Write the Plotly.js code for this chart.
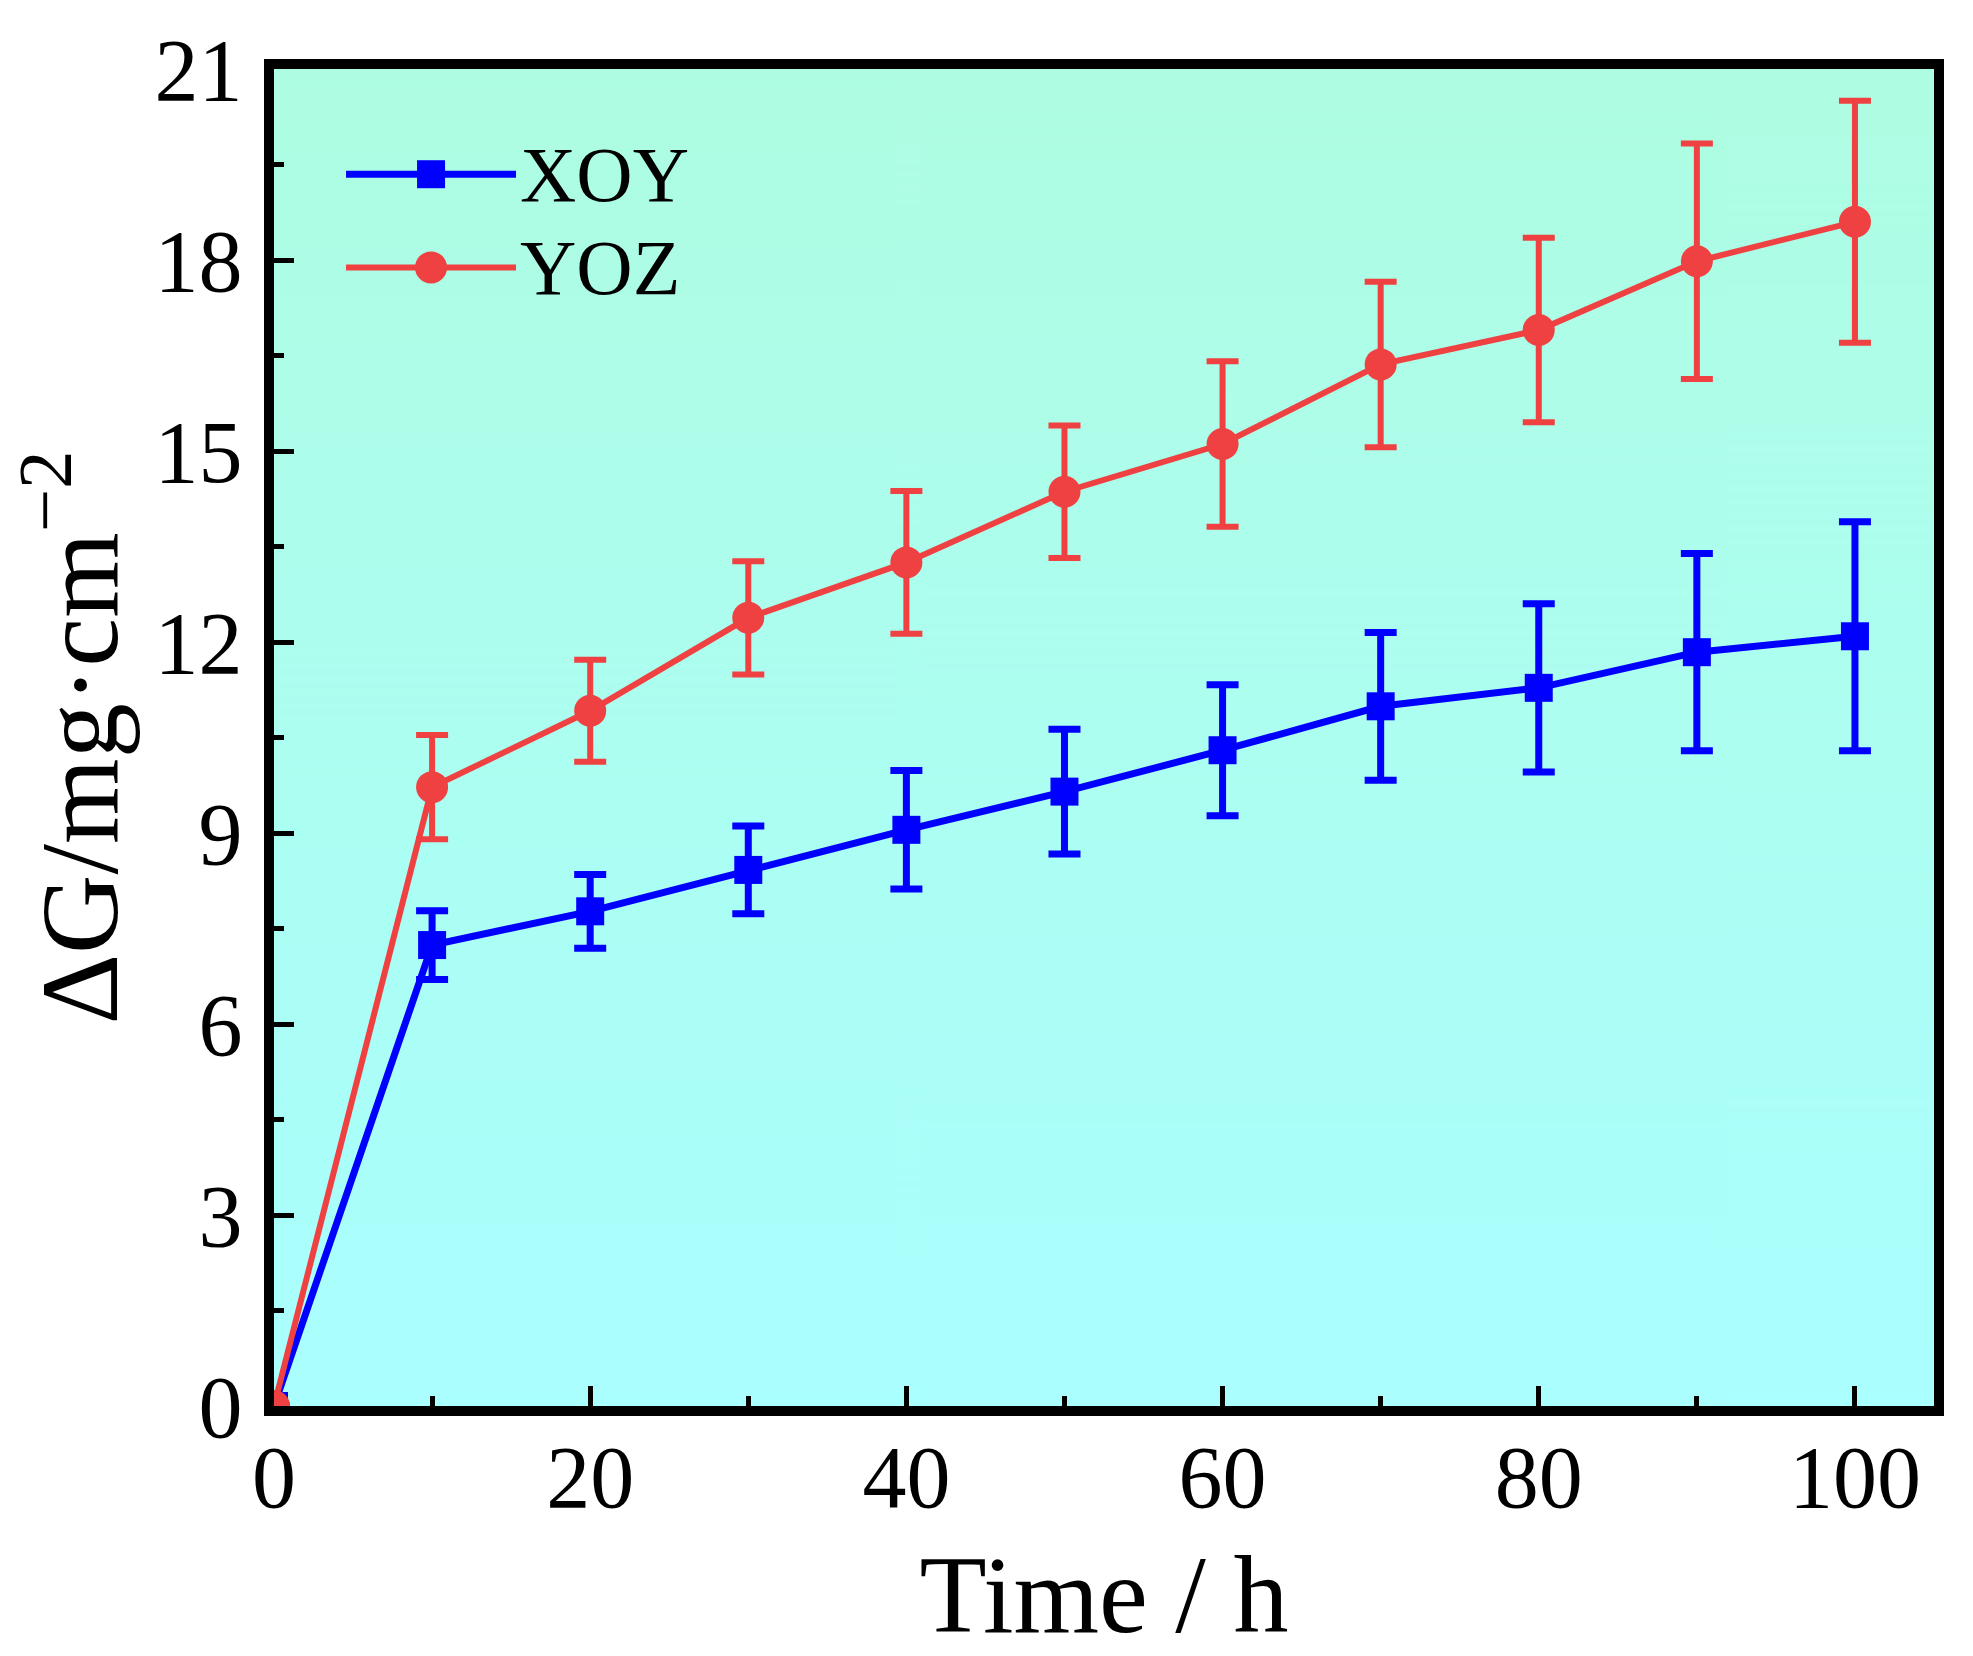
<!DOCTYPE html>
<html>
<head>
<meta charset="utf-8">
<script src="https://cdn.plot.ly/plotly-3.0.1.min.js"></script>
<style>html,body{margin:0;padding:0;background:#fff;}</style>
</head>
<body>
<div id="chart" style="width:1973px;height:1656px;"></div>
<script>
// ---- data ----
const time = [0, 10, 20, 30, 40, 50, 60, 70, 80, 90, 100];
const xoyValues = [0, 7.24, 7.77, 8.42, 9.05, 9.65, 10.30, 10.99, 11.28, 11.84, 12.09];
const xoyErrors = [0, 0.54, 0.58, 0.69, 0.93, 0.98, 1.03, 1.16, 1.32, 1.55, 1.80];
const yozValues = [0, 9.72, 10.92, 12.38, 13.25, 14.36, 15.11, 16.36, 16.90, 17.98, 18.60];
const yozErrors = [0, 0.82, 0.80, 0.89, 1.12, 1.04, 1.30, 1.30, 1.45, 1.85, 1.90];
const xTicks = [0, 20, 40, 60, 80, 100];
const yTicks = [0, 3, 6, 9, 12, 15, 18, 21];
const seriesNames = ['XOY', 'YOZ'];

const BLUE = '#0000ff';
const RED = '#ef4141';
const FONT = 'Liberation Serif, Times New Roman, serif';

// gradient background image
function gradientURL() {
  const c = document.createElement('canvas');
  c.width = 4; c.height = 400;
  const g = c.getContext('2d');
  const gr = g.createLinearGradient(0, 0, 0, 400);
  gr.addColorStop(0, '#aefde2');
  gr.addColorStop(1, '#aaffff');
  g.fillStyle = gr;
  g.fillRect(0, 0, 4, 400);
  return c.toDataURL('image/png');
}

const traces = [
  {
    x: time, y: xoyValues, name: seriesNames[0], type: 'scatter', mode: 'lines+markers',
    line: {color: BLUE, width: 7},
    marker: {symbol: 'square', size: 28, color: BLUE},
    error_y: {type: 'data', array: xoyErrors, visible: true, color: BLUE, thickness: 7, width: 16}
  },
  {
    x: time, y: yozValues, name: seriesNames[1], type: 'scatter', mode: 'lines+markers',
    line: {color: RED, width: 6},
    marker: {symbol: 'circle', size: 32, color: RED},
    error_y: {type: 'data', array: yozErrors, visible: true, color: RED, thickness: 6, width: 16}
  }
];

// manual legend (paper coordinates)
const plotW = 1973 - 274 - 39, plotH = 1656 - 69 - 250;
const lx0 = 0.0434, lx1 = 0.1458, lmx = 0.0946, ltx = 0.147;
const ly = [0.9213, 0.8516];
const sq = {hx: 14 / plotW, hy: 14 / plotH};
const ci = {hx: 16 / plotW, hy: 16 / plotH};

const shapes = [
  {type: 'line', xref: 'paper', yref: 'paper', x0: lx0, x1: lx1, y0: ly[0], y1: ly[0], line: {color: BLUE, width: 7}},
  {type: 'rect', xref: 'paper', yref: 'paper', x0: lmx - sq.hx, x1: lmx + sq.hx, y0: ly[0] - sq.hy, y1: ly[0] + sq.hy, fillcolor: BLUE, line: {width: 0}},
  {type: 'line', xref: 'paper', yref: 'paper', x0: lx0, x1: lx1, y0: ly[1], y1: ly[1], line: {color: RED, width: 6}},
  {type: 'circle', xref: 'paper', yref: 'paper', x0: lmx - ci.hx, x1: lmx + ci.hx, y0: ly[1] - ci.hy, y1: ly[1] + ci.hy, fillcolor: RED, line: {width: 0}}
];

const annotations = seriesNames.map((n, i) => ({
  text: n, xref: 'paper', yref: 'paper', x: ltx, y: ly[i], xanchor: 'left', yanchor: 'middle',
  showarrow: false, font: {family: FONT, size: 78, color: '#000'}
}));

const axisCommon = {
  showgrid: false, zeroline: false, showline: true, linecolor: '#000', linewidth: 10, mirror: true,
  ticks: 'inside', ticklen: 20, tickwidth: 5, tickcolor: '#000',
  tickfont: {family: FONT, size: 88, color: '#000'}
};

const layout = {
  width: 1973, height: 1656,
  margin: {l: 274, r: 39, t: 69, b: 250, pad: 0},
  paper_bgcolor: '#ffffff',
  plot_bgcolor: 'rgba(0,0,0,0)',
  showlegend: false,
  xaxis: Object.assign({}, axisCommon, {
    range: [0, 105], tickvals: xTicks, ticktext: xTicks.map(String),
    minor: {ticks: 'inside', ticklen: 10, tickwidth: 5, tickcolor: '#000', dtick: 10, tick0: 0, showgrid: false},
    ticklabelstandoff: -15,
    title: {text: 'Time / h', font: {family: FONT, size: 110, color: '#000'}, standoff: 37}
  }),
  yaxis: Object.assign({}, axisCommon, {
    range: [0, 21], tickvals: yTicks, ticktext: yTicks.map(String),
    minor: {ticks: 'inside', ticklen: 10, tickwidth: 5, tickcolor: '#000', dtick: 1.5, tick0: 0, showgrid: false},
    ticklabelstandoff: 4,
    title: {text: 'ΔG/mg·cm<sup>−2</sup>', font: {family: FONT, size: 110, color: '#000'}, standoff: 4}
  }),
  images: [{
    source: gradientURL(), xref: 'paper', yref: 'paper', x: 0, y: 1, sizex: 1, sizey: 1,
    sizing: 'stretch', layer: 'below', xanchor: 'left', yanchor: 'top'
  }],
  shapes: shapes,
  annotations: annotations
};

Plotly.newPlot('chart', traces, layout, {displayModeBar: false, staticPlot: true});
</script>
</body>
</html>
